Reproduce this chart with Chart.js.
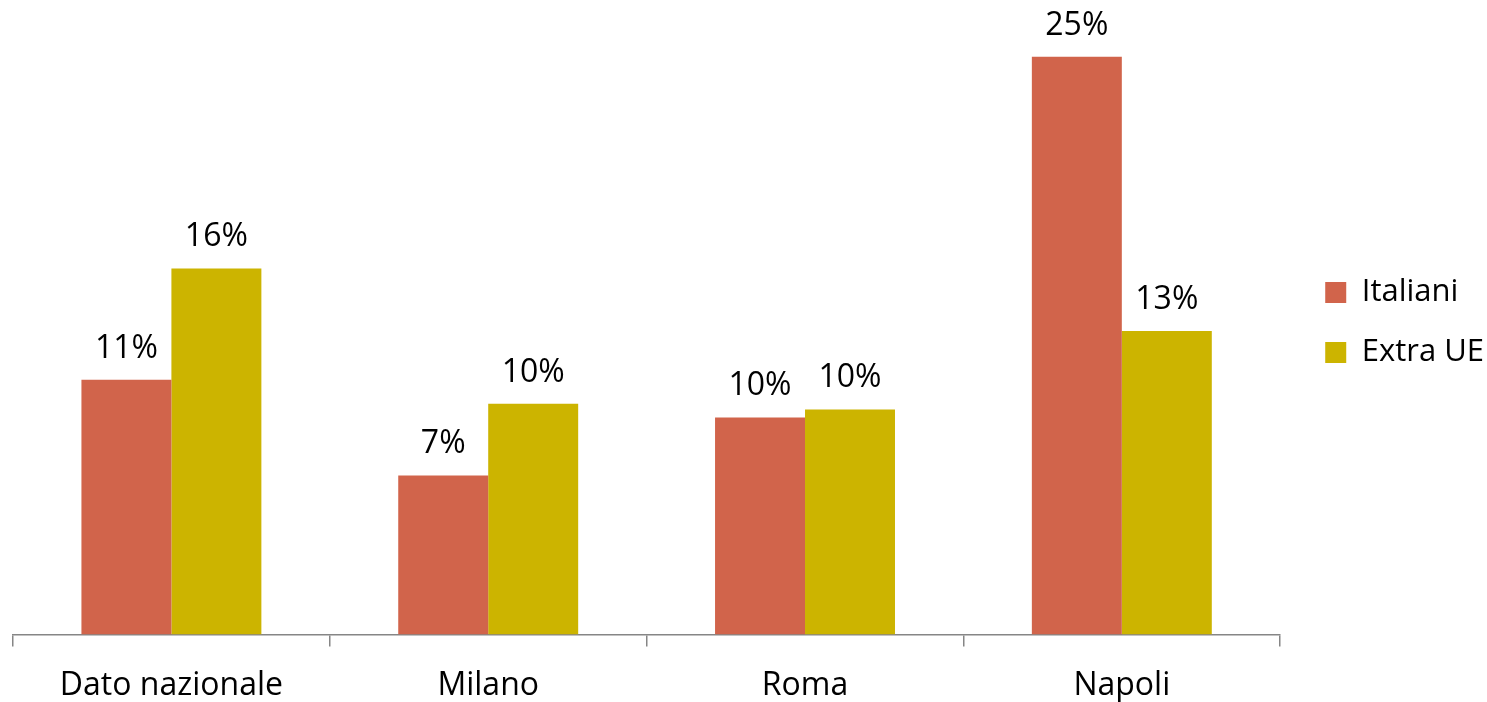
<!DOCTYPE html>
<html>
<head>
<meta charset="utf-8">
<script src="https://cdn.jsdelivr.net/npm/chart.js@4.4.1/dist/chart.umd.min.js"></script>
<style>
  html, body { margin: 0; padding: 0; background: #ffffff; }
  #wrap { width: 1487px; height: 702px; position: relative; }
</style>
</head>
<body>
<div id="wrap"><canvas id="c" width="1487" height="702"></canvas></div>
<script>
const categories = ["Dato nazionale", "Milano", "Roma", "Napoli"];
const seriesNames = ["Italiani", "Extra UE"];
const italiani = [11.2, 7.0, 9.55, 25.4];
const extraUE = [16.1, 10.15, 9.9, 13.35];
const seriesColors = ["#D1644B", "#CCB400"];

const FONT = "'Open Sans', 'Noto Sans', sans-serif";

const valueLabels = {
  id: 'valueLabels',
  afterDatasetsDraw(chart) {
    const ctx = chart.ctx;
    ctx.save();
    ctx.font = "32px " + FONT;
    ctx.fillStyle = "#000000";
    ctx.textAlign = "center";
    ctx.textBaseline = "alphabetic";
    chart.data.datasets.forEach((ds, di) => {
      const meta = chart.getDatasetMeta(di);
      meta.data.forEach((bar, i) => {
        ctx.fillText(Math.round(ds.data[i]) + "%", bar.x, bar.y - 22);
      });
    });
    ctx.restore();
  }
};

new Chart(document.getElementById('c'), {
  type: 'bar',
  data: {
    labels: categories,
    datasets: [
      { label: seriesNames[0], data: italiani, backgroundColor: seriesColors[0], borderWidth: 0 },
      { label: seriesNames[1], data: extraUE, backgroundColor: seriesColors[1], borderWidth: 0 }
    ]
  },
  options: {
    responsive: false,
    animation: false,
    devicePixelRatio: 1,
    layout: { padding: { left: 13, top: 0, right: -7, bottom: -23 } },
    datasets: { bar: { categoryPercentage: 0.568, barPercentage: 1.0 } },
    plugins: {
      tooltip: { enabled: false },
      legend: {
        position: 'right',
        align: 'start',
        title: {
          display: true,
          text: '',
          font: { size: 10, lineHeight: 1 },
          padding: { top: 238, bottom: 0 }
        },
        labels: {
          font: { family: FONT, size: 31 },
          color: '#000000',
          boxWidth: 21,
          boxHeight: 21,
          padding: 29
        }
      }
    },
    scales: {
      x: {
        offset: true,
        grid: {
          display: true,
          offset: true,
          drawOnChartArea: false,
          drawTicks: true,
          tickLength: 12,
          color: '#868686',
          lineWidth: 1.5
        },
        border: { display: true, color: '#868686', width: 1.5 },
        ticks: {
          font: { family: FONT, size: 32 },
          color: '#000000',
          padding: 20,
          maxRotation: 0,
          autoSkip: false
        }
      },
      y: {
        display: false,
        min: 0,
        max: 27.9
      },
      spacer: {
        type: 'linear',
        position: 'right',
        display: true,
        grid: { display: false },
        border: { display: false },
        ticks: { display: false },
        afterFit(scale) { scale.width = 16; }
      }
    }
  },
  plugins: [valueLabels]
});
</script>
</body>
</html>
